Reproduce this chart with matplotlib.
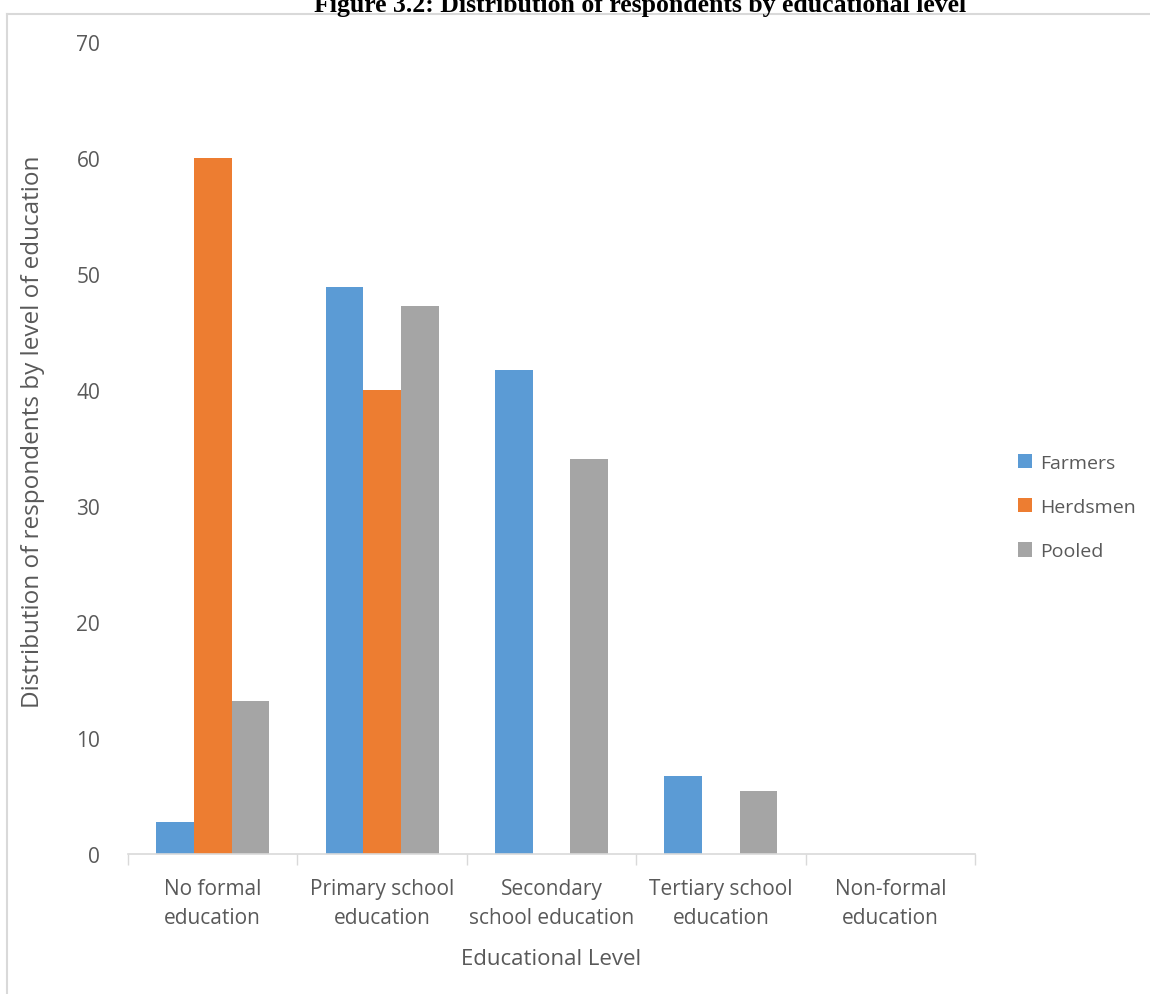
import matplotlib
matplotlib.use("Agg")
import matplotlib.pyplot as plt
import numpy as np
from matplotlib.lines import Line2D

categories = ["No formal\neducation", "Primary school\neducation", "Secondary\nschool education",
              "Tertiary school\neducation", "Non-formal\neducation"]
series_names = ["Farmers", "Herdsmen", "Pooled"]
farmers = [2.8, 48.9, 41.7, 6.75, 0]
herdsmen = [60.0, 40.0, 0, 0, 0]
pooled = [13.2, 47.3, 34.1, 5.45, 0]
colors = ["#5B9BD5", "#ED7D31", "#A5A5A5"]
yticks = [0, 10, 20, 30, 40, 50, 60, 70]

W, H = 1150, 995
fig = plt.figure(figsize=(W / 100, H / 100), dpi=100)
plt.rcParams['font.family'] = ['Open Sans', 'DejaVu Sans']
txt = "#595959"
grid_c = "#D9D9D9"

ax = fig.add_axes([128 / W, 1 - 855 / H, (975 - 128) / W, (855 - 43.3) / H])
x = np.arange(len(categories))
bw = 0.222
for i, (vals, name, c) in enumerate(zip([farmers, herdsmen, pooled], series_names, colors)):
    ax.bar(x + (i - 1) * bw, vals, width=bw, color=c, label=name, zorder=2)

ax.set_xlim(-0.5, len(categories) - 0.5)
ax.set_ylim(0, 70)
ax.set_yticks(yticks)
ax.set_yticklabels([str(t) for t in yticks], fontsize=15, color=txt)
ax.tick_params(axis='y', length=0, pad=20)
ax.set_xticks(x)
ax.set_xticklabels(categories, fontsize=15, color=txt, linespacing=1.5)
ax.tick_params(axis='x', length=0, pad=17)
ax.set_xticks(np.arange(-0.5, len(categories), 1.0), minor=True)
ax.tick_params(axis='x', which='minor', length=8, color=grid_c, width=1)
for s in ["top", "right", "left"]:
    ax.spines[s].set_visible(False)
ax.spines["bottom"].set_color(grid_c)
ax.spines["bottom"].set_linewidth(1.2)

ax.set_xlabel("Educational Level", fontsize=16, color=txt, labelpad=15)
fig.text(33 / W, 1 - 432 / H, "Distribution of respondents by level of education",
         rotation=90, ha='center', va='center', fontsize=17.5, color=txt)

leg = ax.legend(loc='center left', bbox_to_anchor=(1000 / W, 1 - 508 / H),
                bbox_transform=fig.transFigure, frameon=False, fontsize=14,
                handlelength=0.75, handleheight=0.75, handletextpad=0.4, labelspacing=1.35)
for t in leg.get_texts():
    t.set_color(txt)

# outer chart frame (partially visible)
fig.add_artist(Line2D([7 / W, 7 / W], [0, 1 - 15 / H], transform=fig.transFigure, color=grid_c, lw=1.5))
fig.add_artist(Line2D([7 / W, 1], [1 - 15 / H, 1 - 15 / H], transform=fig.transFigure, color=grid_c, lw=1.5))

fig.text(640 / W, 1 - 12 / H, "Figure 3.2: Distribution of respondents by educational level",
         ha='center', va='baseline', fontsize=18.5, fontweight='bold', family='Liberation Serif',
         color='black')

fig.savefig("out.png", dpi=100)
